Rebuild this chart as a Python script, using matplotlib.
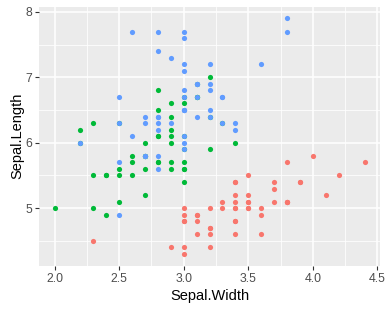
import matplotlib
matplotlib.use("Agg")
import matplotlib.pyplot as plt
from matplotlib.ticker import MultipleLocator

setosa_len = [5.1,4.9,4.7,4.6,5.0,5.4,4.6,5.0,4.4,4.9,5.4,4.8,4.8,4.3,5.8,5.7,5.4,5.1,5.7,5.1,5.4,5.1,4.6,5.1,4.8,5.0,5.0,5.2,5.2,4.7,4.8,5.4,5.2,5.5,4.9,5.0,5.5,4.9,4.4,5.1,5.0,4.5,4.4,5.0,5.1,4.8,5.1,4.6,5.3,5.0]
setosa_wid = [3.5,3.0,3.2,3.1,3.6,3.9,3.4,3.4,2.9,3.1,3.7,3.4,3.0,3.0,4.0,4.4,3.9,3.5,3.8,3.8,3.4,3.7,3.6,3.3,3.4,3.0,3.4,3.5,3.4,3.2,3.1,3.4,4.1,4.2,3.1,3.2,3.5,3.6,3.0,3.4,3.5,2.3,3.2,3.5,3.8,3.0,3.8,3.2,3.7,3.3]
versicolor_len = [7.0,6.4,6.9,5.5,6.5,5.7,6.3,4.9,6.6,5.2,5.0,5.9,6.0,6.1,5.6,6.7,5.6,5.8,6.2,5.6,5.9,6.1,6.3,6.1,6.4,6.6,6.8,6.7,6.0,5.7,5.5,5.5,5.8,6.0,5.4,6.0,6.7,6.3,5.6,5.5,5.5,6.1,5.8,5.0,5.6,5.7,5.7,6.2,5.1,5.7]
versicolor_wid = [3.2,3.2,3.1,2.3,2.8,2.8,3.3,2.4,2.9,2.7,2.0,3.0,2.2,2.9,2.9,3.1,3.0,2.7,2.2,2.5,3.2,2.8,2.5,2.8,2.9,3.0,2.8,3.0,2.9,2.6,2.4,2.4,2.7,2.7,3.0,3.4,3.1,2.3,3.0,2.5,2.6,3.0,2.6,2.3,2.7,3.0,2.9,2.9,2.5,2.8]
virginica_len = [6.3,5.8,7.1,6.3,6.5,7.6,4.9,7.3,6.7,7.2,6.5,6.4,6.8,5.7,5.8,6.4,6.5,7.7,7.7,6.0,6.9,5.6,7.7,6.3,6.7,7.2,6.2,6.1,6.4,7.2,7.4,7.9,6.4,6.3,6.1,7.7,6.3,6.4,6.0,6.9,6.7,6.9,5.8,6.8,6.7,6.7,6.3,6.5,6.2,5.9]
virginica_wid = [3.3,2.7,3.0,2.9,3.0,3.0,2.5,2.9,2.5,3.6,3.2,2.7,3.0,2.5,2.8,3.2,3.0,3.8,2.6,2.2,3.2,2.8,2.8,2.7,3.3,3.2,2.8,3.0,2.8,3.0,2.8,3.8,2.8,2.8,2.6,3.0,3.4,3.1,3.0,3.1,3.1,3.1,2.7,3.2,3.3,3.0,2.5,3.0,3.4,3.0]

series = [
    (setosa_wid, setosa_len, "#F8766D"),
    (versicolor_wid, versicolor_len, "#00BA38"),
    (virginica_wid, virginica_len, "#619CFF"),
]

plt.rcParams['font.family'] = ['Liberation Sans', 'DejaVu Sans']
fig = plt.figure(figsize=(3.92, 3.11), dpi=100)
ax = fig.add_axes([39/392, (311-265.7)/311, (380-39)/392, (265.7-6.7)/311])
ax.set_facecolor("#EBEBEB")
for x, y, c in series:
    ax.scatter(x, y, s=14, color=c, linewidths=0, zorder=3)

ax.set_xlim(1.88, 4.52)
ax.set_ylim(4.12, 8.08)
ax.xaxis.set_major_locator(MultipleLocator(0.5))
ax.xaxis.set_minor_locator(MultipleLocator(0.25))
ax.yaxis.set_major_locator(MultipleLocator(1))
ax.yaxis.set_minor_locator(MultipleLocator(0.5))
ax.set_xticks([2.0, 2.5, 3.0, 3.5, 4.0, 4.5])
ax.set_xticklabels(["2.0", "2.5", "3.0", "3.5", "4.0", "4.5"])
ax.set_yticks([5, 6, 7, 8])
ax.grid(which="major", color="white", linewidth=1.1, zorder=0)
ax.grid(which="minor", color="white", linewidth=0.55, zorder=0)
ax.set_axisbelow(True)
for sp in ax.spines.values():
    sp.set_visible(False)
ax.tick_params(which="major", length=3, width=0.8, color="#333333", labelsize=8.8, labelcolor="#4D4D4D", pad=2)
ax.tick_params(which="minor", length=0)
ax.set_xlabel("Sepal.Width", fontsize=10.5, color="black", labelpad=3)
ax.set_ylabel("Sepal.Length", fontsize=10.5, color="black", labelpad=1)

fig.savefig("out.png", dpi=100)
